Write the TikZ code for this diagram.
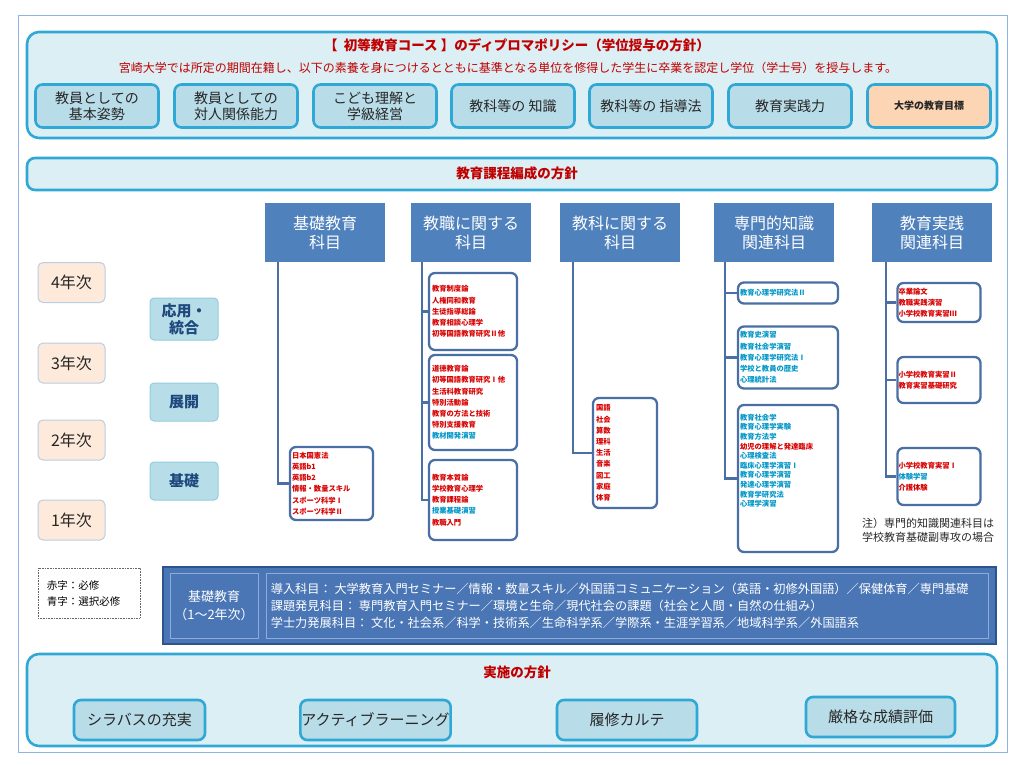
\documentclass[tikz,border=0pt]{standalone}
\usepackage{fontspec}
\setmainfont{Noto Sans CJK JP}
\usetikzlibrary{calc}
\definecolor{panelfill}{HTML}{DCEFF5}
\definecolor{panelbd}{HTML}{2FA8D5}
\definecolor{boxfill}{HTML}{B8DCE8}
\definecolor{peach}{HTML}{FCD5B4}
\definecolor{hdrblue}{HTML}{4F81BD}
\definecolor{coursebd}{HTML}{4A6FA5}
\definecolor{cred}{HTML}{D80000}
\definecolor{cblue}{HTML}{0096C8}
\definecolor{titlered}{HTML}{C00000}
\definecolor{yearfill}{HTML}{FDEADA}
\definecolor{yearbd}{HTML}{B9CDE5}
\definecolor{stagefill}{HTML}{B7DEE8}
\definecolor{stagebd}{HTML}{93CDDD}
\definecolor{stagetext}{HTML}{1F497D}
\definecolor{darkfill}{HTML}{4A76B5}
\definecolor{darkbd}{HTML}{2C5590}
\definecolor{cellbd}{HTML}{8CADDB}
\definecolor{framec}{HTML}{8DB4E2}
\newcommand{\R}[1]{\textcolor{cred}{#1}}
\newcommand{\B}[1]{\textcolor{cblue}{#1}}
\begin{document}
\begin{tikzpicture}[x=1pt,y=-1pt,
 panel/.style={draw=panelbd,line width=2.6pt,fill=panelfill,rounded corners=12pt,inner sep=0pt},
 dpbox/.style={draw=panelbd,line width=2.6pt,fill=boxfill,rounded corners=7pt,minimum width=123pt,minimum height=43pt,inner sep=1pt,align=center,text=black!85,font=\fontsize{14}{15.5}\selectfont},
 hdr/.style={fill=hdrblue,draw=none,minimum width=120pt,minimum height=59pt,inner sep=1pt,align=center,text=white,font=\fontsize{16}{19}\selectfont},
 cbox/.style={draw=coursebd,line width=2.3pt,fill=white,rounded corners=6pt,inner sep=0pt},
 ctext/.style={align=left,inner sep=0pt,anchor=west,font=\fontsize{7.3}{11.2}\selectfont\bfseries},
 conn/.style={draw=coursebd,line width=2.3pt},
 yearbox/.style={draw=yearbd,line width=1pt,fill=yearfill,rounded corners=5pt,minimum width=67pt,minimum height=40pt,inner sep=1pt,font=\fontsize{16}{18}\selectfont,text=black!85},
 stagebox/.style={draw=stagebd,line width=1pt,fill=stagefill,rounded corners=4pt,minimum width=68pt,inner sep=1pt,align=center,text=stagetext,font=\fontsize{15}{17}\selectfont\bfseries},
 impbox/.style={draw=panelbd,line width=2.6pt,fill=boxfill,rounded corners=7pt,minimum height=40pt,inner sep=1pt,text=black!85,font=\fontsize{15}{17}\selectfont},
 ptitle/.style={text=titlered,font=\fontsize{13.5}{15}\selectfont\bfseries,inner sep=0pt}
]
\useasboundingbox (0,0) rectangle (1015,764);
\draw[framec,line width=0.8pt] (18,15) rectangle (1007,752);

% ---------- Diploma policy panel
\node[panel,minimum width=970pt,minimum height=106pt] (dp) at (512,85) {};
\node[ptitle] (dptitle) at (517,45) {【\ \ 初等教育コース\ 】のディプロマポリシー（学位授与の方針）};
\node[text=titlered,font=\fontsize{12}{13}\selectfont,inner sep=0pt] (dpsub) at (508,68) {宮崎大学では所定の期間在籍し、以下の素養を身につけるとともに基準となる単位を修得した学生に卒業を認定し学位（学士号）を授与します。};
\node[dpbox] (dp1) at (97,106) {教員としての\\基本姿勢};
\node[dpbox] (dp2) at (236,106) {教員としての\\対人関係能力};
\node[dpbox] (dp3) at (375,106) {こども理解と\\学級経営};
\node[dpbox] (dp4) at (513,106) {教科等の 知識};
\node[dpbox] (dp5) at (651,106) {教科等の 指導法};
\node[dpbox] (dp6) at (790,106) {教育実践力};
\node[dpbox,fill=peach,font=\fontsize{10}{12}\selectfont\bfseries] (dp7) at (929,106) {大学の教育目標};

% ---------- Curriculum policy banner
\node[panel,rounded corners=8pt,minimum width=970pt,minimum height=32pt] (cp) at (512,174) {};
\node[ptitle] (cptitle) at (517,173) {教育課程編成の方針};

% ---------- column headers
\node[hdr] (h1) at (325,232.5) {基礎教育\\科目};
\node[hdr] (h2) at (471,232.5) {教職に関する\\科目};
\node[hdr] (h3) at (620,232.5) {教科に関する\\科目};
\node[hdr] (h4) at (774,232.5) {専門的知識\\関連科目};
\node[hdr] (h5) at (932,232.5) {教育実践\\関連科目};

% ---------- year and stage boxes
\node[yearbox] (y4) at (71.5,282.5) {4年次};
\node[yearbox] (y3) at (71.5,363) {3年次};
\node[yearbox] (y2) at (71.5,440) {2年次};
\node[yearbox] (y1) at (71.5,520) {1年次};
\node[stagebox,minimum height=42pt] (s3) at (184,319) {応用・\\統合};
\node[stagebox,minimum height=38pt] (s2) at (184,402) {展開};
\node[stagebox,minimum height=38pt] (s1) at (184,481) {基礎};

% ---------- course boxes
\node[cbox,minimum width=83pt,minimum height=73pt] (c1) at (331.5,483.5) {};
\node[cbox,minimum width=88pt,minimum height=77pt] (c2a) at (473,311.5) {};
\node[cbox,minimum width=88pt,minimum height=95pt] (c2b) at (473,402.5) {};
\node[cbox,minimum width=88pt,minimum height=80pt] (c2c) at (473,500) {};
\node[cbox,minimum width=64pt,minimum height=110pt] (c3) at (625,453) {};
\node[cbox,minimum width=100pt,minimum height=21pt] (c4a) at (788,293) {};
\node[cbox,minimum width=100pt,minimum height=62pt] (c4b) at (788,357.5) {};
\node[cbox,minimum width=100pt,minimum height=147pt] (c4c) at (788,478.5) {};
\node[cbox,minimum width=83pt,minimum height=39pt] (c5a) at (939,302.5) {};
\node[cbox,minimum width=83pt,minimum height=46pt] (c5b) at (939,380) {};
\node[cbox,minimum width=83pt,minimum height=57pt] (c5c) at (939,476.5) {};

\node[ctext] (t1) at ([xshift=3pt]c1.west) {\R{日本国憲法}\\\R{英語b1}\\\R{英語b2}\\\R{情報・数量スキル}\\\R{スポーツ科学Ⅰ}\\\R{スポーツ科学Ⅱ}};
\node[ctext] (t2a) at ([xshift=4pt]c2a.west) {\R{教育制度論}\\\R{人権同和教育}\\\R{生徒指導総論}\\\R{教育相談心理学}\\\R{初等国語教育研究Ⅱ他}};
\node[ctext] (t2b) at ([xshift=4pt]c2b.west) {\R{道徳教育論}\\\R{初等国語教育研究Ⅰ他}\\\R{生活科教育研究}\\\R{特別活動論}\\\R{教育の方法と技術}\\\R{特別支援教育}\\\B{教材開発演習}};
\node[ctext] (t2c) at ([xshift=4pt]c2c.west) {\R{教育本質論}\\\R{学校教育心理学}\\\R{教育課程論}\\\B{授業基礎演習}\\\R{教職入門}};
\node[ctext] (t3) at ([xshift=4pt]c3.west) {\R{国語}\\\R{社会}\\\R{算数}\\\R{理科}\\\R{生活}\\\R{音楽}\\\R{図工}\\\R{家庭}\\\R{体育}};
\node[ctext] (t4a) at ([xshift=3pt]c4a.west) {\B{教育心理学研究法Ⅱ}};
\node[ctext] (t4b) at ([xshift=3pt]c4b.west) {\B{教育史演習}\\\B{教育社会学演習}\\\B{教育心理学研究法Ⅰ}\\\B{学校と教員の歴史}\\\B{心理統計法}};
\node[ctext,anchor=north west,font=\fontsize{7.3}{9.6}\selectfont\bfseries] (t4c) at ([shift={(3,10)}]c4c.north west) {\B{教育社会学}\\\B{教育心理学実験}\\\B{教育方法学}\\\R{幼児の理解と発達臨床}\\\B{心理検査法}\\\B{臨床心理学演習Ⅰ}\\\B{教育心理学演習}\\\B{発達心理学演習}\\\B{教育学研究法}\\\B{心理学演習}};
\node[ctext] (t5a) at ([xshift=2pt]c5a.west) {\R{卒業論文}\\\R{教職実践演習}\\\R{小学校教育実習Ⅲ}};
\node[ctext] (t5b) at ([xshift=2pt]c5b.west) {\R{小学校教育実習Ⅱ}\\\R{教育実習基礎研究}};
\node[ctext] (t5c) at ([xshift=2pt]c5c.west) {\R{小学校教育実習Ⅰ}\\\B{体験学習}\\\R{介護体験}};

% ---------- connectors
\coordinate (v1) at ([xshift=13pt]h1.south west);
\coordinate (v2) at ([xshift=11pt]h2.south west);
\coordinate (v3) at ([xshift=13pt]h3.south west);
\coordinate (v4) at ([xshift=11pt]h4.south west);
\coordinate (v5) at ([xshift=14pt]h5.south west);
\draw[conn] (v1) |- (c1.west);
\draw[conn] (v2) |- (c2a.west);
\draw[conn] (v2) |- (c2b.west);
\draw[conn] (v2) |- (c2c.west);
\draw[conn] (v3) |- (c3.west);
\draw[conn] (v4) |- (c4a.west);
\draw[conn] (v4) |- (c4b.west);
\draw[conn] (v4) |- (c4c.west);
\draw[conn] (v5) |- (c5a.west);
\draw[conn] (v5) |- (c5b.west);
\draw[conn] (v5) |- (c5c.west);

% ---------- note
\node[anchor=west,inner sep=0pt,font=\fontsize{11}{13}\selectfont,text=black!85] (note1) at (862,523) {注）専門的知識関連科目は};
\node[anchor=west,inner sep=0pt,font=\fontsize{11}{13}\selectfont,text=black!85] (note2) at (862,537) {学校教育基礎副専攻の場合};

% ---------- legend
\node[draw=black!60,densely dotted,line width=0.6pt,minimum width=102pt,minimum height=50pt,inner sep=0pt] (leg) at (89,593) {};
\node[anchor=west,align=left,inner sep=0pt,font=\fontsize{10.5}{16}\selectfont] (legt) at ([xshift=9pt]leg.west) {赤字：必修\\青字：選択必修};

% ---------- general education box
\node[draw=darkbd,line width=2pt,fill=darkfill,minimum width=833pt,minimum height=77pt,inner sep=0pt] (ge) at (579.5,605.5) {};
\node[draw=cellbd,line width=0.8pt,fill=darkfill,minimum width=88pt,minimum height=65pt,inner sep=0pt,align=center,text=white,font=\fontsize{13}{18}\selectfont] (gel) at (214,605.5) {基礎教育\\（1～2年次）};
\node[draw=cellbd,line width=0.8pt,fill=darkfill,minimum width=722pt,minimum height=65pt,inner sep=0pt] (ger) at (627,605.5) {};
\node[anchor=west,align=left,inner sep=0pt,text=white,font=\fontsize{12.2}{17}\selectfont] (gert) at ([xshift=5pt]ger.west) {導入科目： 大学教育入門セミナー／情報・数量スキル／外国語コミュニケーション（英語・初修外国語）／保健体育／専門基礎\\課題発見科目： 専門教育入門セミナー／環境と生命／現代社会の課題（社会と人間・自然の仕組み）\\学士力発展科目： 文化・社会系／科学・技術系／生命科学系／学際系・生涯学習系／地域科学系／外国語系};

% ---------- implementation policy panel
\node[panel,minimum width=970pt,minimum height=92pt] (ip) at (512,700) {};
\node[ptitle] (iptitle) at (517,672) {実施の方針};
\node[impbox,minimum width=131pt] (i1) at (139.5,720) {シラバスの充実};
\node[impbox,minimum width=143pt] (i2) at (375.5,720) {アクティブラーニング};
\node[impbox,minimum width=140pt] (i3) at (627,720) {履修カルテ};
\node[impbox,minimum width=149pt] (i4) at (880.5,717) {厳格な成績評価};
\end{tikzpicture}
\end{document}
